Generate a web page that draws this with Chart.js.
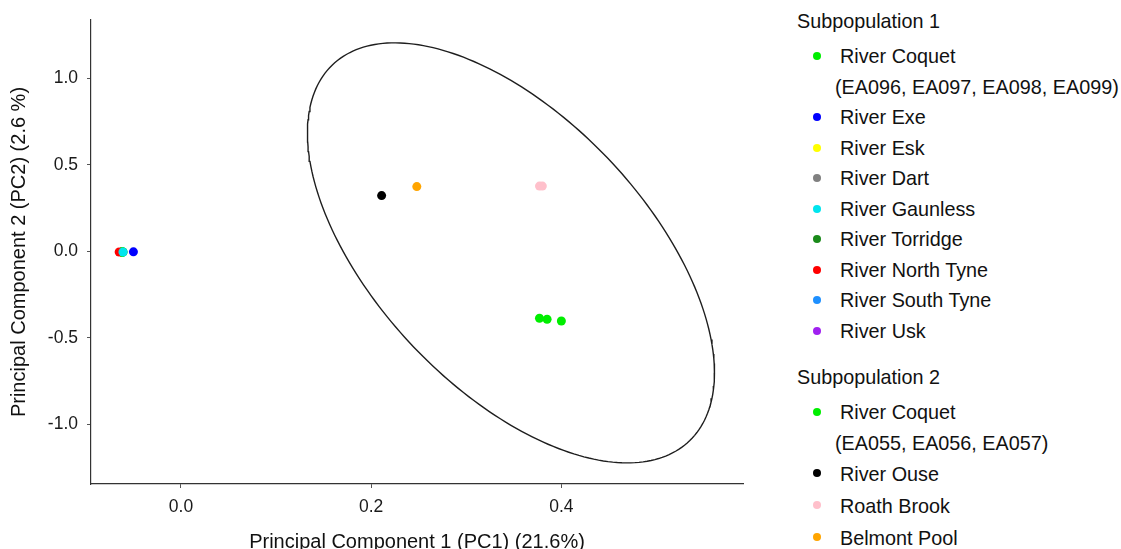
<!DOCTYPE html>
<html>
<head>
<meta charset="utf-8">
<script src="https://cdn.jsdelivr.net/npm/chart.js@4.4.0/dist/chart.umd.min.js"></script>
<style>
  html, body { margin: 0; padding: 0; background: #fff; }
  body { width: 1121px; height: 549px; position: relative; overflow: hidden;
         font-family: "Liberation Sans", Arial, sans-serif; }
  #wrap { position: absolute; left: 0; top: 0; width: 760px; height: 549px; }
  #legend { position: absolute; left: 797px; top: 6px; color: #111; font-size: 19.8px; }
  .head { height: 30.5px; line-height: 30.5px; margin-bottom: 4.5px; white-space: nowrap; }
  .row { height: 30.5px; line-height: 30.5px; position: relative; padding-left: 43px; white-space: nowrap; }
  .row.note { padding-left: 38px; }
  .row.wide { height: 32px; line-height: 32px; }
  .dot { position: absolute; left: 15.7px; top: 11.2px; width: 8px; height: 8px; border-radius: 50%; }
  .gap { height: 16px; }
</style>
</head>
<body>
<div id="wrap"><canvas id="pca" width="760" height="549"></canvas></div>
<div id="legend"></div>
<script>
// axes
const xTicks = [0.0, 0.2, 0.4];
const yTicks = [-1.0, -0.5, 0.0, 0.5, 1.0];
const xRange = [-0.0946, 0.591];
const yRange = [-1.344, 1.338];

// Subpopulation 1
const sub1Names = ['River Coquet', 'River Exe', 'River Esk', 'River Dart', 'River Gaunless',
                   'River Torridge', 'River North Tyne', 'River South Tyne', 'River Usk'];
const sub1Notes = ['(EA096, EA097, EA098, EA099)', '', '', '', '', '', '', '', ''];
const sub1Colors = ['#00ee00', '#0000ff', '#ffff00', '#808080', '#00e5ee',
                    '#1a8a1a', '#ff0000', '#1e90ff', '#a020f0'];
const sub1X = [[-0.062, -0.062, -0.061, -0.062], [-0.050], [-0.062], [-0.061], [-0.061],
               [-0.062], [-0.065], [-0.061], [-0.062]];
const sub1Y = [[-0.003, -0.003, -0.003, -0.003], [-0.002], [-0.003], [-0.003], [-0.003],
               [-0.003], [-0.003], [-0.003], [-0.003]];

// Subpopulation 2
const sub2Names = ['River Coquet', 'River Ouse', 'Roath Brook', 'Belmont Pool'];
const sub2Notes = ['(EA055, EA056, EA057)', '', '', ''];
const sub2Colors = ['#00ee00', '#000000', '#ffc0cb', '#ffa500'];
const sub2X = [[0.377, 0.385, 0.400], [0.211], [0.377, 0.380], [0.248]];
const sub2Y = [[-0.386, -0.392, -0.402], [0.323], [0.378, 0.378], [0.375]];

// confidence ellipse of subpopulation 2: centre, radii along x / y, phase
const ellipseCentre = [0.347, -0.008];
const ellipseRadii = [0.214, 1.214];
const ellipsePhase = 0.963;

Chart.defaults.font.family = '"Liberation Sans", Arial, sans-serif';

function points(xs, ys) {
  return xs.map((x, i) => ({ x: x, y: ys[i] }));
}

const datasets = [];
// draw order: Gaunless on top of the cluster at the origin
const topFirst = [4, 1, 6, 0, 2, 3, 5, 7, 8];
sub2Names.forEach((n, i) => {
  datasets.push({ label: n, data: points(sub2X[i], sub2Y[i]), backgroundColor: sub2Colors[i],
                  borderWidth: 0, pointRadius: 4.5, order: i });
});
topFirst.forEach((k, j) => {
  datasets.push({ label: sub1Names[k], data: points(sub1X[k], sub1Y[k]), backgroundColor: sub1Colors[k],
                  borderWidth: 0, pointRadius: 4.5, order: 10 + j });
});

const ring = [];
for (let s = 0; s <= 240; s++) {
  const t = s / 240 * Math.PI * 2;
  ring.push({ x: ellipseCentre[0] + ellipseRadii[0] * Math.cos(t),
              y: ellipseCentre[1] - ellipseRadii[1] * Math.cos(t - ellipsePhase) });
}
datasets.push({ label: 'ellipse', data: ring, showLine: true, pointRadius: 0,
                borderColor: '#1e1e1e', borderWidth: 1.4, fill: false, order: 100 });

const axisColor = '#333';
new Chart(document.getElementById('pca'), {
  type: 'scatter',
  data: { datasets: datasets },
  options: {
    responsive: false,
    animation: false,
    layout: { padding: { top: 20, right: 17, left: 0, bottom: 0 } },
    plugins: { legend: { display: false }, tooltip: { enabled: false } },
    scales: {
      x: {
        min: xRange[0], max: xRange[1],
        afterBuildTicks: s => { s.ticks = xTicks.map(v => ({ value: v })); },
        afterFit: s => { s.height = 65; },
        ticks: { color: '#1a1a1a', font: { size: 17.5 }, padding: 9, callback: v => v.toFixed(1) },
        grid: { drawOnChartArea: false, drawTicks: true, tickLength: 4, color: '#555' },
        border: { display: true, color: axisColor, width: 1.2 },
        title: { display: true, text: 'Principal Component 1 (PC1) (21.6%)', color: '#111',
                 font: { size: 20, lineHeight: 1 }, padding: { top: 0, bottom: -3 } }
      },
      y: {
        min: yRange[0], max: yRange[1],
        afterBuildTicks: s => { s.ticks = yTicks.map(v => ({ value: v })); },
        afterFit: s => { s.width = 91; },
        ticks: { color: '#1a1a1a', font: { size: 17.5 }, padding: 9, callback: v => v.toFixed(1) },
        grid: { drawOnChartArea: false, drawTicks: true, tickLength: 4, color: '#555' },
        border: { display: true, color: axisColor, width: 1.2 },
        title: { display: true, text: 'Principal Component 2 (PC2) (2.6 %)', color: '#111',
                 font: { size: 20, lineHeight: 1 }, padding: { top: 9, bottom: 0 } }
      }
    }
  }
});

// legend
const legend = document.getElementById('legend');
function addGroup(title, names, notes, colors, wideFrom) {
  const h = document.createElement('div');
  h.className = 'head';
  h.textContent = title;
  legend.appendChild(h);
  names.forEach((n, i) => {
    const r = document.createElement('div');
    r.className = i >= wideFrom ? 'row wide' : 'row';
    const d = document.createElement('span');
    d.className = 'dot';
    d.style.background = colors[i];
    r.appendChild(d);
    r.appendChild(document.createTextNode(n));
    legend.appendChild(r);
    if (notes[i]) {
      const e = document.createElement('div');
      e.className = 'row note';
      e.textContent = notes[i];
      legend.appendChild(e);
    }
  });
}
addGroup('Subpopulation 1', sub1Names, sub1Notes, sub1Colors, 99);
const g = document.createElement('div');
g.className = 'gap';
legend.appendChild(g);
addGroup('Subpopulation 2', sub2Names, sub2Notes, sub2Colors, 1);
</script>
</body>
</html>
